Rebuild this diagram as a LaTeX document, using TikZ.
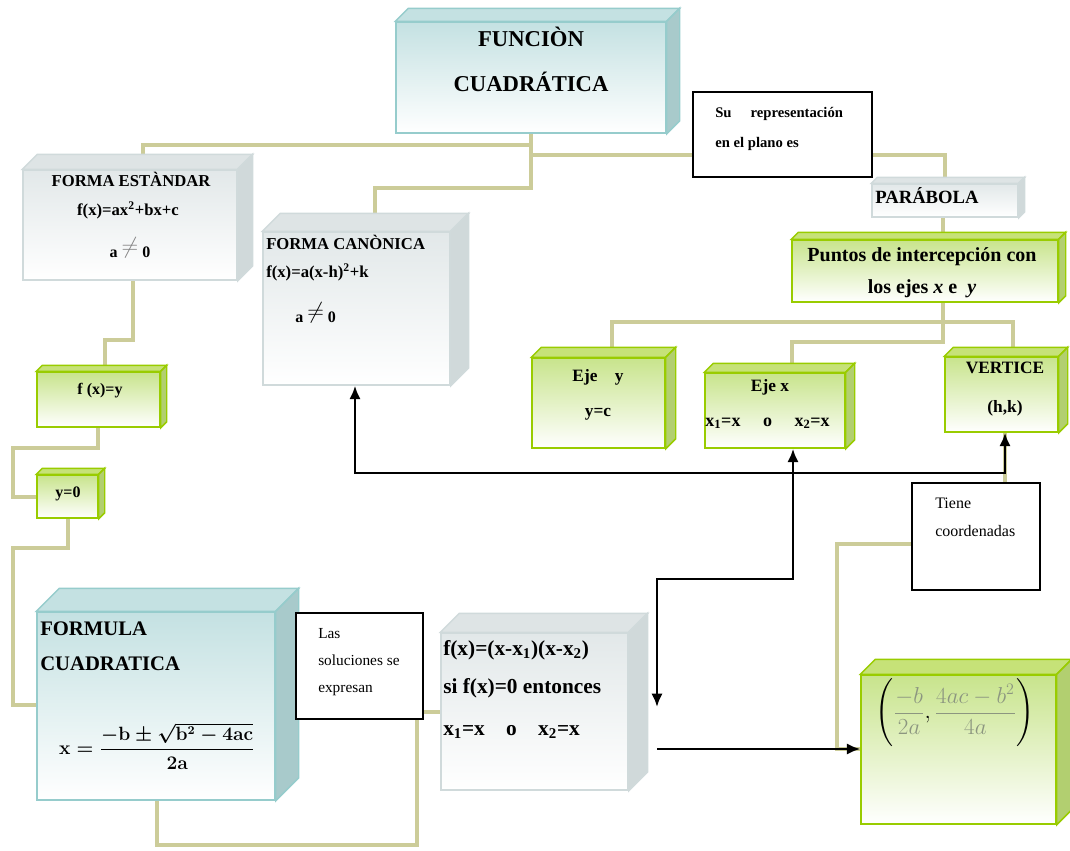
\documentclass[tikz,border=0pt]{standalone}
\usepackage{amsmath,amssymb}
\usepackage{fontspec}
\setmainfont{Liberation Serif}
\usepackage{tikz}
\usetikzlibrary{arrows.meta,fit,backgrounds,shadings}

\definecolor{ocre}{RGB}{204,204,153}
\definecolor{tealarriba}{RGB}{196,225,226}
\definecolor{tealborde}{RGB}{150,204,204}
\definecolor{tealtapa}{RGB}{196,225,226}
\definecolor{teallado}{RGB}{168,202,203}
\definecolor{grisarriba}{RGB}{226,232,233}
\definecolor{grisborde}{RGB}{208,218,219}
\definecolor{gristapa}{RGB}{222,228,229}
\definecolor{grislado}{RGB}{208,217,218}
\definecolor{verdearriba}{RGB}{200,228,140}
\definecolor{verdeborde}{RGB}{153,204,0}
\definecolor{verdetapa}{RGB}{198,226,120}
\definecolor{verdelado}{RGB}{178,207,112}
\definecolor{grisformula}{RGB}{140,150,128}

\tikzset{
  frente/.style={inner sep=0pt,top color=#1arriba,bottom color=white,draw=#1borde,line width=1.1pt},
  tapa/.style={fill=#1tapa,draw=#1borde,line width=1.1pt},
  lado/.style={fill=#1lado,draw=#1borde,line width=1.1pt},
  tb/.style={inner sep=0pt,font=\fontsize{#1}{#1}\selectfont\bfseries},
  texto/.style={inner sep=0pt,font=\fontsize{#1}{#1}\selectfont},
}

% caja en 3D: nombre, color, esquina sup. izq., esquina inf. der., fondo
\newcommand{\caja}[5]{%
  \node[fit={(#3) (#4)},frente=#2] (#1) {};
  \filldraw[tapa=#2] (#1.north west) -- ++(#5,-#5) -- ([shift={(#5,-#5)}]#1.north east) -- (#1.north east) -- cycle;
  \filldraw[lado=#2] (#1.north east) -- ++(#5,-#5) -- ([shift={(#5,-#5)}]#1.south east) -- (#1.south east) -- cycle;
}
% formulas
\newcommand{\resolvente}{$\boldsymbol{\mathbf{x}=\displaystyle\frac{-\mathbf{b}\pm\sqrt{\mathbf{b}^{\mathbf{2}}-\mathbf{4ac}}}{\mathbf{2a}}}$}
\newcommand{\verticeab}{$\boldsymbol{\Bigg(}\textcolor{grisformula}{\displaystyle\frac{-b}{2a}},\textcolor{grisformula}{\displaystyle\frac{4ac-b^{2}}{4a}}\boldsymbol{\Bigg)}$}

\begin{document}
\begin{tikzpicture}[x=0.75pt,y=-0.75pt,>={Latex[length=10pt,width=8.5pt]}]
    \tikzstyle{conector}=[draw=ocre,line width=3.6pt]
    \tikzstyle{flecha}=[draw=black,line width=2pt]
    \tikzstyle{nota}=[draw=black,fill=white,line width=1.1pt,inner sep=0pt]
    \useasboundingbox (0,0) rectangle (1070,850);

    % cajas
    \caja{funcion}{teal}{396,22}{666,133}{13}
    \caja{estandar}{gris}{23,170}{237,280}{15}
    \caja{canonica}{gris}{263,232}{450,385}{18}
    \caja{parabola}{gris}{872,184}{1018,217}{6}
    \caja{puntos}{verde}{792,240}{1058,302}{7}
    \caja{ejey}{verde}{532,358}{665,448}{10}
    \caja{ejex}{verde}{705,373}{845,448}{9}
    \caja{vertice}{verde}{945,357}{1058,432}{9}
    \caja{fxy}{verde}{37,372}{160,427}{6}
    \caja{ycero}{verde}{37,475}{98,518}{6}
    \caja{formula}{teal}{37,612}{275,800}{23}
    \caja{factores}{gris}{441,633}{628,790}{19}
    \caja{coord}{verde}{861,675}{1056,824}{15}

    \node[nota,fit={(693,92) (872,177)}] (su) {};
    \node[nota,fit={(296,613) (423,719)}] (las) {};
    \node[nota,fit={(912,483) (1040,590)}] (tiene) {};

    % textos
    \node[tb=17,anchor=mid] (tFuncion) at (531,43) {FUNCIÒN};
    \node[tb=17,anchor=mid] (tCuad) at (531,88) {CUADRÁTICA};
    \node[tb=11,anchor=mid west] (tSu1) at (715,114) {Su\hspace{1.3em}representación};
    \node[tb=11,anchor=mid west] (tSu2) at (715,144) {en el plano es};
    \node[tb=12.5,anchor=mid] (tEst1) at (131,183) {FORMA ESTÀNDAR};
    \node[tb=12.5,anchor=mid] (tEst2) at (128,212) {f(x)=ax\textsuperscript{2}+bx+c};
    \node[tb=12,anchor=mid] (tEst3) at (130,254) {a \raisebox{3pt}{\fontsize{17}{17}\selectfont\textcolor{gray}{$\neq$}} 0};
    \node[tb=12.5,anchor=mid west] (tCan1) at (266,246) {FORMA CANÒNICA};
    \node[tb=12.5,anchor=mid west] (tCan2) at (266,274) {f(x)=a(x-h)\textsuperscript{2}+k};
    \node[tb=12,anchor=mid west] (tCan3) at (295,319) {a \raisebox{3pt}{\fontsize{17}{17}\selectfont$\neq$} 0};
    \node[tb=14,anchor=mid west] (tPar) at (875,200) {PARÁBOLA};
    \node[tb=15,anchor=mid] (tPun1) at (922,258) {Puntos de intercepción con};
    \node[tb=15,anchor=mid] (tPun2) at (922,290) {los ejes \textit{x} e\ \ \textit{y}};
    \node[tb=13,anchor=mid] (tEjey1) at (598,378) {Eje\quad y};
    \node[tb=13,anchor=mid] (tEjey2) at (598,413) {y=c};
    \node[tb=13,anchor=mid] (tEjex1) at (770,388) {Eje x};
    \node[tb=13.5,anchor=mid west] (tEjex2) at (705,423) {x\textsubscript{1}=x\quad\ o\quad\ x\textsubscript{2}=x};
    \node[tb=13,anchor=mid] (tVer1) at (1005,370) {VERTICE};
    \node[tb=13,anchor=mid] (tVer2) at (1005,409) {(h,k)};
    \node[tb=12,anchor=mid] (tFxy) at (100,391) {f (x)=y};
    \node[tb=12,anchor=mid] (tYcero) at (68,494) {y=0};
    \node[tb=15.5,anchor=mid west] (tForm1) at (40,632) {FORMULA};
    \node[tb=15.5,anchor=mid west] (tForm2) at (40,667) {CUADRATICA};
    \node[texto=13.5] (tForm3) at (157,746) {\resolvente};
    \node[texto=11.5,anchor=mid west] (tLas1) at (318,635) {Las};
    \node[texto=11.5,anchor=mid west] (tLas2) at (318,662) {soluciones se};
    \node[texto=11.5,anchor=mid west] (tLas3) at (318,689) {expresan};
    \node[tb=16,anchor=mid west] (tFac1) at (443,652) {f(x)=(x-x\textsubscript{1})(x-x\textsubscript{2})};
    \node[tb=16,anchor=mid west] (tFac2) at (443,690) {si f(x)=0 entonces};
    \node[tb=16,anchor=mid west] (tFac3) at (443,732) {x\textsubscript{1}=x\quad o\quad x\textsubscript{2}=x};
    \node[texto=12,anchor=mid west] (tTiene1) at (935,505) {Tiene};
    \node[texto=12,anchor=mid west] (tTiene2) at (935,533) {coordenadas};
    \node[texto=17] (tCoord) at (955,713) {\verticeab};

    % conectores por detras
    \begin{pgfonlayer}{background}
    \draw[conector] (funcion.south) |- (143,145) -- (143,0 |- estandar.north);
    \draw[conector] (funcion.south) |- (375,188) -- (375,0 |- canonica.north);
    \draw[conector] (funcion.south |- 0,155) -| (parabola.north);
    \draw[conector] (943,0 |- parabola.south) |- (792,342) -- (792,0 |- ejex.north);
    \draw[conector] (612,0 |- ejey.north) |- (1013,322) -- (1013,0 |- vertice.north);
    \draw[conector] (1005,0 |- vertice.south) -- (1005,0 |- tiene.north);
    \draw[conector] (tiene.west |- 0,544) -| (837,749) -- (coord.west |- 0,749);
    \draw[conector] (133,0 |- estandar.south) |- (105,340) -- (105,0 |- fxy.north);
    \draw[conector] (98,0 |- fxy.south) |- (13,448) |- (ycero.west |- 0,497);
    \draw[conector] (68,0 |- ycero.south) |- (13,548) |- (formula.west |- 0,705);
    \draw[conector] (157,0 |- formula.south) |- (417,845) |- (factores.west |- 0,712);
    \end{pgfonlayer}

    % flechas
    \coordinate (finx) at (657,707);
    \coordinate (inicio) at (657,749);
    \draw[flecha,<->] (355,0 |- canonica.south) |- (1005,473) -- (1005,0 |- vertice.south);
    \draw[flecha,<->] (finx) |- (793,579) -- (793,0 |- ejex.south);
    \draw[flecha,->] (inicio) -- (coord.west |- inicio);
\end{tikzpicture}
\end{document}
